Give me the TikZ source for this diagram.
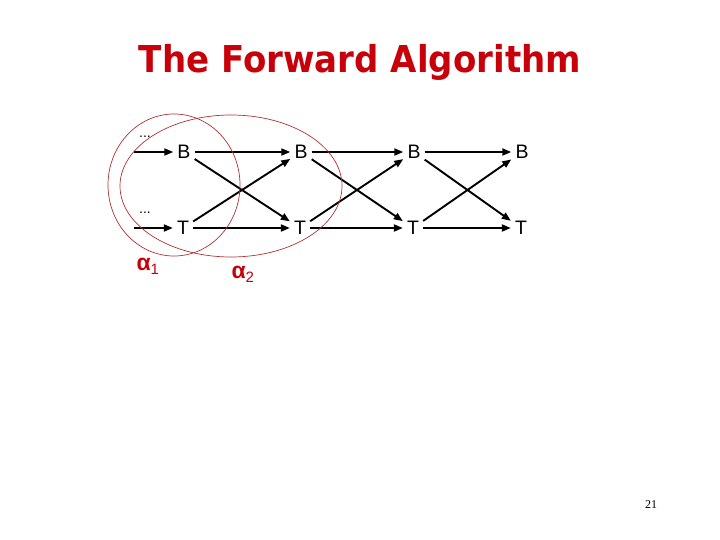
\documentclass[tikz,border=0pt]{standalone}
\usepackage{fontspec}
\setmainfont{Liberation Sans}
\newfontfamily\titlefont{DejaVu Sans}
\newfontfamily\numfont{Liberation Serif}
\usetikzlibrary{arrows.meta}
\definecolor{titlered}{RGB}{200,0,10}
\definecolor{ellred}{RGB}{175,50,50}
\tikzset{
  st/.style={font=\fontsize{19.5}{20}\selectfont, inner sep=4pt, text height=14pt, text depth=0pt},
  arr/.style={line width=1.9pt, -{Triangle[length=9pt,width=7pt]}},
  ell/.style={draw=ellred, line width=0.7pt},
  dots/.style={font=\fontsize{14}{14}\selectfont, inner sep=0pt},
  alab/.style={text=titlered, font=\bfseries\fontsize{23}{23}\selectfont}
}
\begin{document}
\begin{tikzpicture}[x=1pt,y=-1pt]
\useasboundingbox (0,0) rectangle (720,540);
\node[text=titlered, font=\titlefont\bfseries\fontsize{37}{37}\selectfont] (title) at (360,62) {\scalebox{0.92}[1]{The Forward Algorithm}};
% states
\node[st] (B1) at (184,152) {B};
\node[st] (T1) at (183,228) {T};
\node[st] (B2) at (301,152) {B};
\node[st] (T2) at (300,228) {T};
\node[st] (B3) at (414,152) {B};
\node[st] (T3) at (413,228) {T};
\node[st] (B4) at (522,152) {B};
\node[st] (T4) at (521,228) {T};
% incoming
\coordinate (s1) at (134,152);
\coordinate (s2) at (134,228);
\node[dots] (d1) at (145,137) {...};
\node[dots] (d2) at (145,213) {...};
\draw[arr] (s1) -- (B1);
\draw[arr] (s2) -- (T1);
% transitions
\foreach \a/\b in {1/2,2/3,3/4}{
  \draw[arr] (B\a) -- (B\b);
  \draw[arr] (T\a) -- (T\b);
  \draw[arr] (B\a) -- (T\b);
  \draw[arr] (T\a) -- (B\b);
}
% ellipses
\draw[ell] (174,185) ellipse [x radius=66, y radius=71];
\draw[ell] (231,186) ellipse [x radius=111, y radius=71];
% labels
\node[alab, anchor=base west] (a1) at (133,270) {α\raisebox{-4pt}{\mdseries\fontsize{15}{15}\selectfont 1}};
\node[alab, anchor=base west] (a2) at (228,278) {α\raisebox{-4pt}{\mdseries\fontsize{15}{15}\selectfont 2}};
\node[font=\numfont\fontsize{12}{12}\selectfont] (pg) at (651,505) {21};
\end{tikzpicture}
\end{document}
